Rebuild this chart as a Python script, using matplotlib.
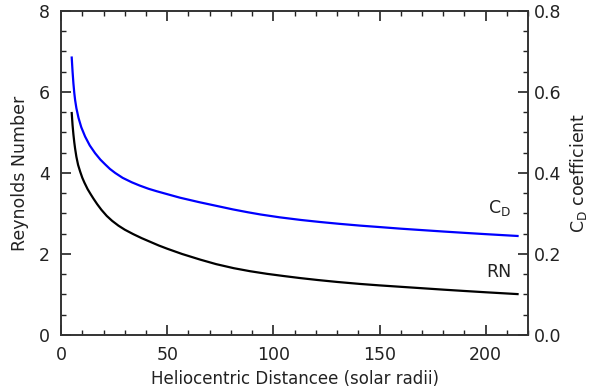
import matplotlib
matplotlib.use("Agg")
import matplotlib.pyplot as plt
from matplotlib.ticker import MultipleLocator, FormatStrFormatter

# 读图得到的数据
dist_rn = [5, 5.4, 5.8, 6.2, 6.6, 7.2, 8, 9, 10, 11, 12.5, 14, 15.2, 17, 19,
           21.5, 24, 27, 30, 34, 38, 42, 46, 50, 57, 65.6, 73, 81.3, 89, 97,
           105, 112.7, 121, 130, 141, 150, 160, 170, 180, 190, 200, 215]
rn = [5.48, 5.18, 4.95, 4.76, 4.60, 4.40, 4.20, 4.03, 3.88, 3.76, 3.60, 3.47,
      3.37, 3.23, 3.09, 2.94, 2.82, 2.70, 2.60, 2.49, 2.39, 2.30, 2.21, 2.13,
      2.00, 1.86, 1.75, 1.65, 1.575, 1.51, 1.455, 1.405, 1.357, 1.31, 1.26,
      1.225, 1.19, 1.155, 1.12, 1.087, 1.055, 1.01]

dist_cd = [5, 5.4, 5.8, 6.2, 6.6, 7.2, 8.2, 9.5, 11.3, 13.5, 16, 18.5, 20.8,
           23, 25.5, 29, 33.3, 37, 41.2, 45, 49.1, 56, 65, 73, 81, 88, 94, 103,
           113, 122, 131, 141, 150, 160, 170, 180, 190, 200, 215]
cd = [0.685, 0.650, 0.621, 0.598, 0.580, 0.560, 0.536, 0.513, 0.490, 0.468,
      0.449, 0.433, 0.421, 0.410, 0.400, 0.388, 0.377, 0.369, 0.361, 0.355,
      0.349, 0.339, 0.328, 0.319, 0.310, 0.303, 0.2975, 0.2905, 0.284, 0.279,
      0.2745, 0.270, 0.2665, 0.2625, 0.259, 0.2555, 0.2522, 0.249, 0.2445]

plt.rcParams['font.family'] = ['DejaVu Sans']
fig = plt.figure(figsize=(6.05, 3.92), dpi=100)
ax = fig.add_axes([0.101, 0.1454, 0.772, 0.8266])
ax2 = ax.twinx()

ax.plot(dist_rn, rn, color="black", lw=1.6)
ax2.plot(dist_cd, cd, color="#0000ff", lw=1.6)

ax.set_xlim(0, 220)
ax.set_ylim(0, 8)
ax2.set_ylim(0, 0.8)

tc = "#222222"
ax.xaxis.set_major_locator(MultipleLocator(50))
ax.xaxis.set_minor_locator(MultipleLocator(10))
ax.yaxis.set_major_locator(MultipleLocator(2))
ax.yaxis.set_minor_locator(MultipleLocator(0.5))
ax2.yaxis.set_major_locator(MultipleLocator(0.2))
ax2.yaxis.set_minor_locator(MultipleLocator(0.05))
ax2.yaxis.set_major_formatter(FormatStrFormatter("%.1f"))

ax.tick_params(axis="both", which="major", direction="in", length=7, width=1.2,
               labelsize=12.5, colors=tc, pad=8, top=True)
ax.tick_params(axis="both", which="minor", direction="in", length=3.5, width=1.0,
               colors=tc, top=True)
ax.tick_params(axis="y", right=False)
ax2.tick_params(axis="y", which="major", direction="in", length=7, width=1.2,
                labelsize=12.5, colors=tc, pad=4)
ax2.tick_params(axis="y", which="minor", direction="in", length=3.5, width=1.0, colors=tc)

for a in (ax, ax2):
    for s in a.spines.values():
        s.set_color("#333333")
        s.set_linewidth(1.2)

ax.set_xlabel("Heliocentric Distancee (solar radii)", fontsize=12, color=tc, labelpad=4)
ax.set_ylabel("Reynolds Number", fontsize=12.5, color=tc, labelpad=7)
ax2.set_ylabel(r"C$_\mathrm{D}$ coefficient", fontsize=12.5, color=tc, labelpad=5)

ax.text(212, 3.13, r"C$_\mathrm{D}$", fontsize=12.5, color=tc, ha="right", va="center")
ax.text(212, 1.55, "RN", fontsize=12.5, color=tc, ha="right", va="center")

fig.savefig("out.png", dpi=100)
